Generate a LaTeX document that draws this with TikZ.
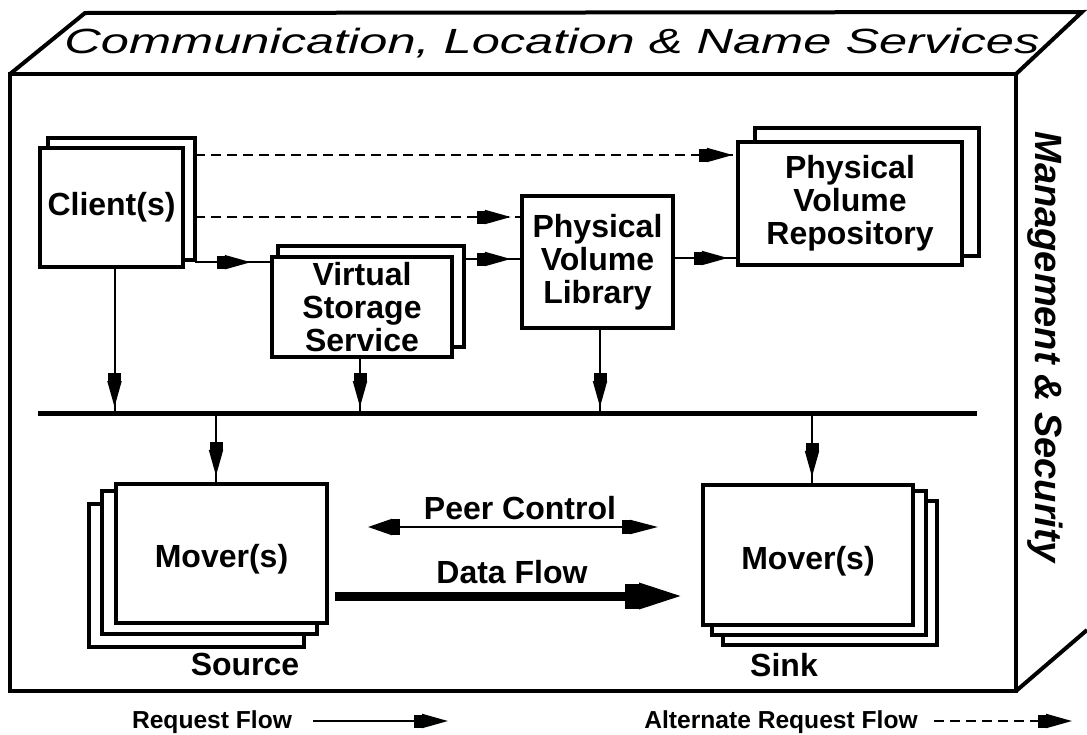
\documentclass[tikz,border=0pt]{standalone}
\usepackage{fontspec}
\usepackage{graphicx}
\setmainfont{Liberation Sans}
\usetikzlibrary{arrows.meta,decorations.markings}
\pgfdeclarelayer{bg}
\pgfdeclarelayer{sheets}
\pgfsetlayers{bg,sheets,main}

\newcommand{\lblfont}{\fontsize{16}{16.5}\selectfont\bfseries}
\newcommand{\legfont}{\fontsize{12.3}{13}\selectfont\bfseries}

\tikzset{
  reqtip/.tip={Rectangle[length=4pt,width=6.5pt] Triangle[length=13pt,width=7pt]},
  req/.style={line width=1pt, postaction={decorate},
    decoration={markings, mark=at position -#1 with {\arrow{reqtip}}}},
  alt/.style={req=#1, dash pattern=on 5pt off 3pt},
  cube/.style={line width=2pt, line join=miter},
  box/.style={draw, line width=2.2pt, fill=white, inner sep=0pt, align=center, font=\lblfont},
  sheet/.style={draw, line width=2pt, fill=white},
  lbl/.style={inner sep=0pt, font=\lblfont, anchor=base},
  leg/.style={inner sep=0pt, font=\legfont, anchor=base},
  bus/.style={line width=2.5pt},
}

\begin{document}
\begin{tikzpicture}[x=0.5pt,y=-0.5pt]
\begin{pgfonlayer}{bg}
  \fill[white] (0,0) rectangle (1087,734);
\end{pgfonlayer}
\useasboundingbox (0,0) rectangle (1087,734);

% the cube: front face, top face and the lower edge of the side face
\draw[cube] (10,74) rectangle (1016,691);
\draw[cube] (10,74) -- (85,13) -- (1082,12) -- (1016,74);
\draw[cube] (1016,691) -- (1087,630);

\node[inner sep=0pt, anchor=base] (title) at (552,53)
  {\resizebox{487.5pt}{\height}{\fontsize{17.5}{18}\selectfont\itshape Communication, Location \& Name Services}};
\node[inner sep=0pt, anchor=base, rotate=-90,
      font=\fontsize{19}{20}\selectfont\bfseries\itshape] (mgmt) at (1035,347) {Management \& Security};

% service boxes
\node[box, minimum width=71.5pt, minimum height=59.5pt] (client) at (111.5,207.5) {Client(s)};
\node[box, minimum width=90pt, minimum height=50pt] (vss) at (362,307) {Virtual\\Storage\\Service};
\node[box, minimum width=75.5pt, minimum height=66pt] (pvl) at (597.5,262) {Physical\\Volume\\Library};
\node[box, minimum width=112pt, minimum height=61.5pt] (pvr) at (850,203.5) {Physical\\Volume\\Repository};
\node[box, minimum width=105.5pt, minimum height=69.5pt, text height=14pt, text depth=0pt] (src) at (221.5,553.5) {Mover(s)};
\node[box, minimum width=105pt, minimum height=70pt, text height=14pt, text depth=0pt] (snk) at (808,555) {Mover(s)};

% stacked sheets behind the boxes
\begin{pgfonlayer}{sheets}
  \draw[sheet] ([shift={(10,-9)}]client.south west) rectangle ([shift={(10,-8)}]client.north east);
  \draw[sheet] ([shift={(8,-12)}]vss.south west) rectangle ([shift={(10,-9)}]vss.north east);
  \draw[sheet] ([shift={(19,-11)}]pvr.south west) rectangle ([shift={(15,-12)}]pvr.north east);
  \draw[sheet] ([shift={(-25,22)}]src.south west) rectangle ([shift={(-25,22)}]src.north east);
  \draw[sheet] ([shift={(-12,9)}]src.south west) rectangle ([shift={(-12,9)}]src.north east);
  \draw[sheet] ([shift={(22,18)}]snk.south west) rectangle ([shift={(22,18)}]snk.north east);
  \draw[sheet] ([shift={(11,8)}]snk.south west) rectangle ([shift={(11,8)}]snk.north east);
\end{pgfonlayer}

% request bus
\coordinate (busL) at (38,413);
\coordinate (busR) at (977,413);
\draw[bus] (busL) -- (busR);

% request flows between services
\coordinate (c0) at ([shift={(10,-7)}]client.south east);
\draw[req=9.5pt] (c0) -- (c0 -| vss.west);
\coordinate (c1) at ([shift={(10,9.5)}]client.east);
\draw[alt=4.5pt] (c1) -- (c1 -| pvl.west);
\coordinate (c2) at ([shift={(10,-52.5)}]client.east);
\draw[alt=1.5pt] (c2) -- (c2 -| pvr.west);
\coordinate (v0) at ([shift={(10,-48)}]vss.east);
\draw[req=4.5pt] (v0) -- (v0 -| pvl.west);
\coordinate (p0) at ([shift={(0,-4)}]pvl.east);
\draw[req=4pt] (p0) -- (p0 -| pvr.west);

% requests onto and off the bus
\coordinate (d0) at ([shift={(3,0)}]client.south);
\draw[req=3pt] (d0) -- (d0 |- busL);
\coordinate (d1) at ([shift={(-2,0)}]vss.south);
\draw[req=3pt] (d1) -- (d1 |- busL);
\coordinate (d2) at ([shift={(2.5,0)}]pvl.south);
\draw[req=3pt] (d2) -- (d2 |- busL);
\coordinate (e0) at ([shift={(-5.5,0)}]src.north);
\draw[req=3pt] (e0 |- busL) -- (e0);
\coordinate (e1) at ([shift={(4,0)}]snk.north);
\draw[req=3pt] (e1 |- busL) -- (e1);

% peer control and data flow between movers
\node[lbl] (pctext) at (520,519) {Peer Control};
\coordinate (pcL) at (368,527);
\coordinate (pcR) at (658,527);
\draw[line width=1pt,
  {Triangle[length=12pt,width=8pt] Rectangle[length=4pt,width=8pt]}-{Rectangle[length=4pt,width=7pt] Triangle[length=14pt,width=7pt]}]
  (pcL) -- (pcR);
\node[lbl] (dftext) at (512,583) {Data Flow};
\coordinate (dfL) at (335,596);
\coordinate (dfR) at (683,596);
\draw[line width=4.5pt, -{Rectangle[length=7pt,width=12.5pt] Triangle[length=22pt,width=12pt]}] (dfL) -- (dfR);

\node[lbl] (srclbl) at (245,675) {Source};
\node[lbl] (snklbl) at (784,676) {Sink};

% legend
\node[leg] (lreq) at (212,728) {Request Flow};
\coordinate (lr0) at (313,721);
\coordinate (lr1) at (448,721);
\draw[line width=1pt, -{reqtip}] (lr0) -- (lr1);
\node[leg] (lalt) at (781,728) {Alternate Request Flow};
\coordinate (la0) at (934,721);
\coordinate (la1) at (1072,721);
\draw[line width=1pt, dash pattern=on 5pt off 3pt, -{reqtip}] (la0) -- (la1);
\end{tikzpicture}
\end{document}
